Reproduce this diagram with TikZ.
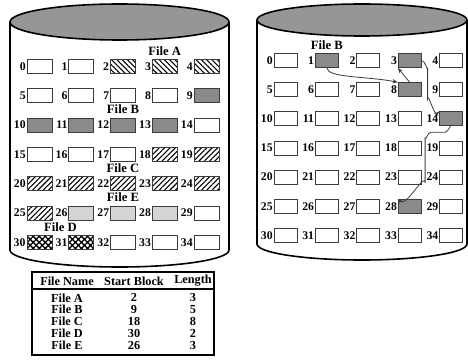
\documentclass[tikz,border=0pt]{standalone}
\usepackage{fontspec}
\setmainfont{Liberation Serif}
\usetikzlibrary{arrows.meta,positioning,calc,patterns.meta}
\definecolor{diskgray}{RGB}{150,150,150}
\definecolor{usedgray}{RGB}{138,138,138}
\definecolor{paleblock}{RGB}{212,212,212}
\definecolor{edgegray}{RGB}{60,60,60}

\begin{document}
\begin{tikzpicture}[x=0.75pt, y=-0.75pt,
    disk/.style={draw=black, line width=1.2pt},
    lid/.style={disk, fill=diskgray},
    blk/.style={draw=edgegray, line width=0.6pt, minimum height=10.5pt, inner sep=0pt},
    num/.style={font=\fontsize{8.8}{10}\selectfont\bfseries, inner sep=0.5pt},
    lbl/.style={font=\fontsize{9.5}{11}\selectfont\bfseries, inner sep=0pt},
    cell/.style={font=\fontsize{9.2}{10}\selectfont\bfseries, inner sep=0pt},
    free/.style={fill=white},
    fileA/.style={pattern={Lines[angle=-45,distance=2.8pt,line width=0.8pt]}},
    fileB/.style={fill=usedgray},
    fileC/.style={pattern={Lines[angle=45,distance=2.8pt,line width=0.8pt]}},
    fileD/.style={pattern={Hatch[angle=45,distance=3.2pt,line width=1pt]}},
    fileE/.style={fill=paleblock},
    link/.style={-{Stealth[length=4pt,width=3pt]}, draw=edgegray, line width=0.6pt}
  ]
  \useasboundingbox (0,0) rectangle (468,360);

  % contiguous allocation
  \draw[disk] (10,22) -- (10,250) arc[start angle=180, end angle=0, x radius=109.5, y radius=17] -- (229,22);
  \draw[lid] (119.5,22) ellipse[x radius=109.5, y radius=18];

  \foreach \n/\s in {0/free,1/free,2/fileA,3/fileA,4/fileA,
      5/free,6/free,7/free,8/free,9/fileB,
      10/fileB,11/fileB,12/fileB,13/fileB,14/free,
      15/free,16/free,17/free,18/fileC,19/fileC,
      20/fileC,21/fileC,22/fileC,23/fileC,24/fileC,
      25/fileC,26/fileE,27/fileE,28/fileE,29/free,
      30/fileD,31/fileD,32/free,33/free,34/free}
  {
    \pgfmathtruncatemacro\col{mod(\n,5)}
    \pgfmathtruncatemacro\row{div(\n,5)}
    \node[blk, \s, minimum width=18.75pt, label={[num]left:\n}] (a\n)
      at ({39.5+41.75*\col},{66.5+29.3*\row}) {};
  }

  \node[lbl, above=2.5pt of a3] (nameA) {File A};
  \node[lbl, above=2.5pt of a12] (nameB) {File B};
  \node[lbl, above=2.5pt of a22] (nameC) {File C};
  \node[lbl, above=2.5pt of a27] (nameE) {File E};
  \coordinate (midD) at ($(a30.north)!0.5!(a31.north)$);
  \node[lbl, above=2.5pt of midD] (nameD) {File D};

  % linked allocation
  \draw[disk] (257,20) -- (257,244) arc[start angle=180, end angle=0, x radius=105, y radius=16] -- (467,20);
  \draw[lid] (362,20) ellipse[x radius=105, y radius=16];

  \foreach \n/\s in {0/free,1/fileB,2/free,3/fileB,4/free,
      5/free,6/free,7/free,8/fileB,9/free,
      10/free,11/free,12/free,13/free,14/fileB,
      15/free,16/free,17/free,18/free,19/free,
      20/free,21/free,22/free,23/free,24/free,
      25/free,26/free,27/free,28/fileB,29/free,
      30/free,31/free,32/free,33/free,34/free}
  {
    \pgfmathtruncatemacro\col{mod(\n,5)}
    \pgfmathtruncatemacro\row{div(\n,5)}
    \node[blk, \s, minimum width=17.25pt, label={[num]left:\n}] (b\n)
      at ({285.5+41.4*\col},{60.5+29.15*\row}) {};
  }

  \node[lbl, above=2.5pt of b1] (nameB2) {File B};

  \draw[link] (b1.south) .. controls +(0,10) and +(-30,-6) .. (b8.north west);
  \draw[link] (b8.north) -- (b3.south west);
  \draw[link] (b3.east) to[out=0,in=270] ++(6,8) -- ++(0,30) to[out=90,in=225] (b14.north west);
  \draw[link] (b14.south) to[out=90,in=0] ++(-6,6) -- ++(-14,0) to[out=180,in=270] ++(-6,6)
    -- ++(0,45) to[out=90,in=315] (b28.north west);

  % directory
  \draw[line width=0.8pt] (32,272) rectangle (214,355);
  \draw[line width=0.8pt] (32,289) -- (214,289);
  \node[cell] (hName) at (67,281) {File Name};
  \node[cell] (hStart) at (134,281) {Start Block};
  \node[cell] (hLen) at (193,281) {Length};
  \foreach \f/\st/\l [count=\i] in {A/2/3, B/9/5, C/18/8, D/30/2, E/26/3}
  {
    \node[cell] (fname\i) at (67,{286+11.8*\i}) {File \f};
    \node[cell] (fstart\i) at (134,{286+11.8*\i}) {\st};
    \node[cell] (flen\i) at (193,{286+11.8*\i}) {\l};
  }
\end{tikzpicture}
\end{document}
